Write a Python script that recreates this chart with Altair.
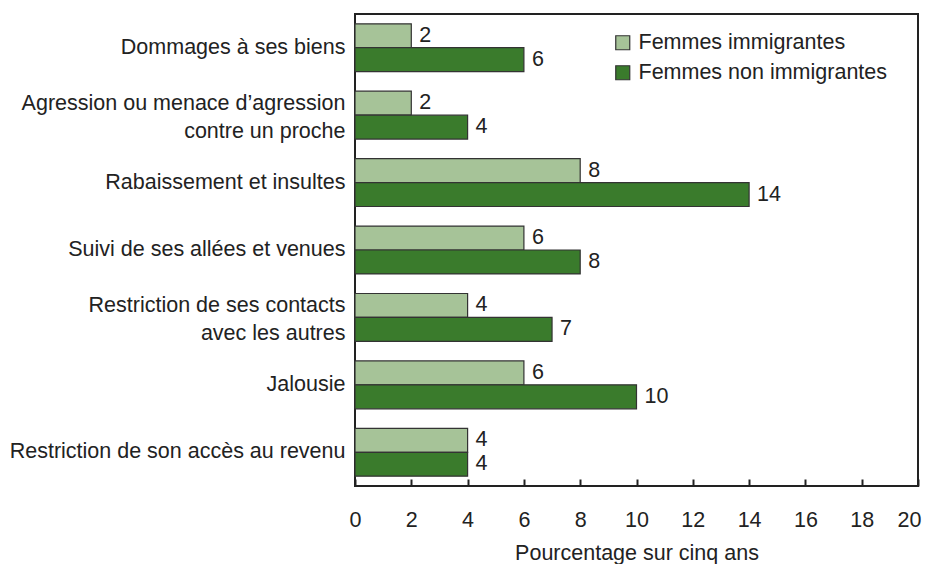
import altair as alt
import pandas as pd

categories = [
    "Dommages à ses biens",
    "Agression ou menace d’agression\ncontre un proche",
    "Rabaissement et insultes",
    "Suivi de ses allées et venues",
    "Restriction de ses contacts\navec les autres",
    "Jalousie",
    "Restriction de son accès au revenu",
]
series = ["Femmes immigrantes", "Femmes non immigrantes"]
immigrantes = [2, 2, 8, 6, 4, 6, 4]
non_immigrantes = [6, 4, 14, 8, 7, 10, 4]
x_ticks = [0, 2, 4, 6, 8, 10, 12, 14, 16, 18, 20]
colors = ["#a6c398", "#3a7b2c"]

rows = []
for c, a, b in zip(categories, immigrantes, non_immigrantes):
    rows.append({"cat": c, "serie": series[0], "val": a})
    rows.append({"cat": c, "serie": series[1], "val": b})
df = pd.DataFrame(rows)

FONT = "Liberation Sans"
TXT = "#222222"
FS = 21.5

y_enc = alt.Y(
    "cat:N",
    sort=categories,
    scale=alt.Scale(paddingInner=0.29, paddingOuter=0.145),
    axis=alt.Axis(
        title=None,
        domain=False,
        ticks=False,
        labelFontSize=FS,
        labelFont=FONT,
        labelColor=TXT,
        labelPadding=10,
        labelLimit=400,
        labelLineHeight=28,
        labelExpr="split(datum.label, '\\n')",
        labelOffset={"condition": {"test": "indexof(datum.value, '\\n') >= 0", "value": -11}, "value": 0},
    ),
)
yoff = alt.YOffset("serie:N", sort=series, scale=alt.Scale(paddingInner=0, paddingOuter=0))

bars = alt.Chart(df).mark_bar(stroke="#333333", strokeWidth=1.2).encode(
    y=y_enc,
    yOffset=yoff,
    x=alt.X(
        "val:Q",
        scale=alt.Scale(domain=[0, 20], nice=False, zero=True),
        axis=alt.Axis(
            values=x_ticks,
            title="Pourcentage sur cinq ans",
            titleFontSize=FS,
            titleFont=FONT,
            titleFontWeight="normal",
            titleColor=TXT,
            titlePadding=12,
            labelFontSize=FS,
            labelFont=FONT,
            labelColor=TXT,
            labelPadding=23,
            labelFlush=False,
            labelOverlap=False,
            labelOffset={"condition": {"test": "datum.value == 20", "value": -9}, "value": 0},
            domain=False,
            grid=False,
            tickSize=7,
            tickWidth=2,
            tickColor="#222222",
            offset=-7,
        ),
    ),
    color=alt.Color(
        "serie:N",
        sort=series,
        scale=alt.Scale(domain=series, range=colors),
        legend=alt.Legend(
            title=None,
            orient="none",
            legendX=257,
            legendY=18,
            symbolType="square",
            symbolSize=196,
            symbolStrokeColor="#333333",
            symbolStrokeWidth=1.2,
            labelFontSize=FS,
            labelFont=FONT,
            labelColor=TXT,
            labelOffset=5,
            labelLimit=400,
            rowPadding=7,
        ),
    ),
)

labels = alt.Chart(df).mark_text(
    align="left", baseline="middle", dx=8, fontSize=FS, font=FONT, color=TXT
).encode(
    y=alt.Y("cat:N", sort=categories),
    yOffset=yoff,
    x=alt.X("val:Q"),
    text=alt.Text("val:Q"),
)

chart = (
    alt.layer(bars, labels)
    .properties(
        width=563,
        height=472,
        autosize=alt.AutoSizeParams(type="none"),
        padding={"left": 347, "top": 6, "right": 4, "bottom": 78},
        background="white",
    )
    .configure_view(stroke="#222222", strokeWidth=2)
)

chart.save("out.html", embed_options={"renderer": "svg", "actions": False})
